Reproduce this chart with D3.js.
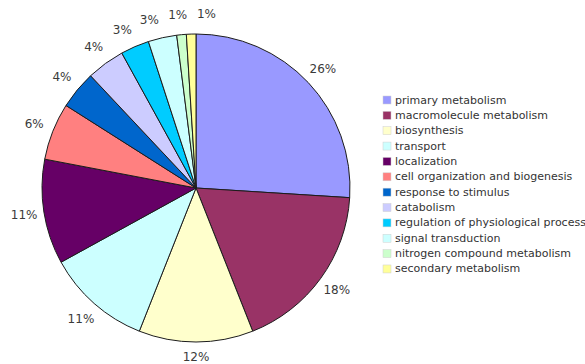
<!DOCTYPE html>
<html>
<head>
<meta charset="utf-8">
<script src="https://cdn.jsdelivr.net/npm/d3@7"></script>
<style>
  html, body { margin: 0; padding: 0; background: #fff; }
  svg { display: block; }
</style>
</head>
<body>
<script>
// Functional categories and their share of annotated genes (%)
const categories = [
  "primary metabolism",
  "macromolecule metabolism",
  "biosynthesis",
  "transport",
  "localization",
  "cell organization and biogenesis",
  "response to stimulus",
  "catabolism",
  "regulation of physiological process",
  "signal transduction",
  "nitrogen compound metabolism",
  "secondary metabolism"
];
const percents = [26, 18, 12, 11, 11, 6, 4, 4, 3, 3, 1, 1];
const colors = [
  "#9999ff", "#993366", "#ffffcc", "#ccffff", "#660066", "#ff8080",
  "#0066cc", "#ccccff", "#00ccff", "#ccffff", "#ccffcc", "#ffff99"
];

const width = 585, height = 364;
const cx = 196, cy = 188, radius = 154;
const labelRadius = radius + 20;

const svg = d3.select("body").append("svg")
  .attr("width", width)
  .attr("height", height);

const data = categories.map((c, i) => ({ name: c, value: percents[i], color: colors[i] }));

const pie = d3.pie()
  .value(d => d.value)
  .sort(null)
  .startAngle(0)
  .endAngle(2 * Math.PI);

const arcs = pie(data);
const arc = d3.arc().innerRadius(0).outerRadius(radius);

const g = svg.append("g").attr("transform", `translate(${cx},${cy})`);

g.selectAll("path.slice")
  .data(arcs)
  .join("path")
  .attr("class", "slice")
  .attr("d", arc)
  .attr("fill", d => d.data.color)
  .attr("stroke", "#1c1c1c")
  .attr("stroke-width", 1)
  .attr("stroke-linejoin", "round");

// Percentage labels: start at each slice's mid angle, then spread
// crowded neighbours apart so the small slices stay readable.
const minSep = 9.5 * Math.PI / 180;
const labels = arcs.map(d => ({ a: (d.startAngle + d.endAngle) / 2, text: d.data.value + "%" }));
for (let iter = 0; iter < 200; iter++) {
  let moved = false;
  for (let i = 0; i < labels.length - 1; i++) {
    const gap = labels[i + 1].a - labels[i].a;
    if (gap < minSep - 1e-6) {
      const push = (minSep - gap) / 2;
      labels[i].a -= push;
      labels[i + 1].a += push;
      moved = true;
    }
  }
  if (!moved) break;
}

// keep labels inside the drawing area
const maxLabelY = height - 7 - cy;

g.selectAll("text.pct")
  .data(labels)
  .join("text")
  .attr("class", "pct")
  .attr("x", d => labelRadius * Math.sin(d.a))
  .attr("y", d => Math.min(maxLabelY, -labelRadius * Math.cos(d.a)))
  .attr("text-anchor", "middle")
  .attr("dominant-baseline", "central")
  .attr("font-family", "DejaVu Sans, Verdana, sans-serif")
  .attr("font-size", 12)
  .attr("fill", "#3a3a3a")
  .text(d => d.text);

// Legend
const legendX = 383, legendY = 100, rowH = 15.36;
const legend = svg.append("g");
const rows = legend.selectAll("g.row")
  .data(data)
  .join("g")
  .attr("class", "row")
  .attr("transform", (d, i) => `translate(${legendX},${legendY + i * rowH})`);

rows.append("rect")
  .attr("x", 0)
  .attr("y", -4)
  .attr("width", 8)
  .attr("height", 8)
  .attr("fill", d => d.color)
  .attr("stroke", "#d0d0d0")
  .attr("stroke-width", 0.5);

rows.append("text")
  .attr("x", 12)
  .attr("y", 0)
  .attr("dominant-baseline", "central")
  .attr("font-family", "DejaVu Sans, Verdana, sans-serif")
  .attr("font-size", 11)
  .attr("fill", "#333")
  .text(d => d.name);
</script>
</body>
</html>
